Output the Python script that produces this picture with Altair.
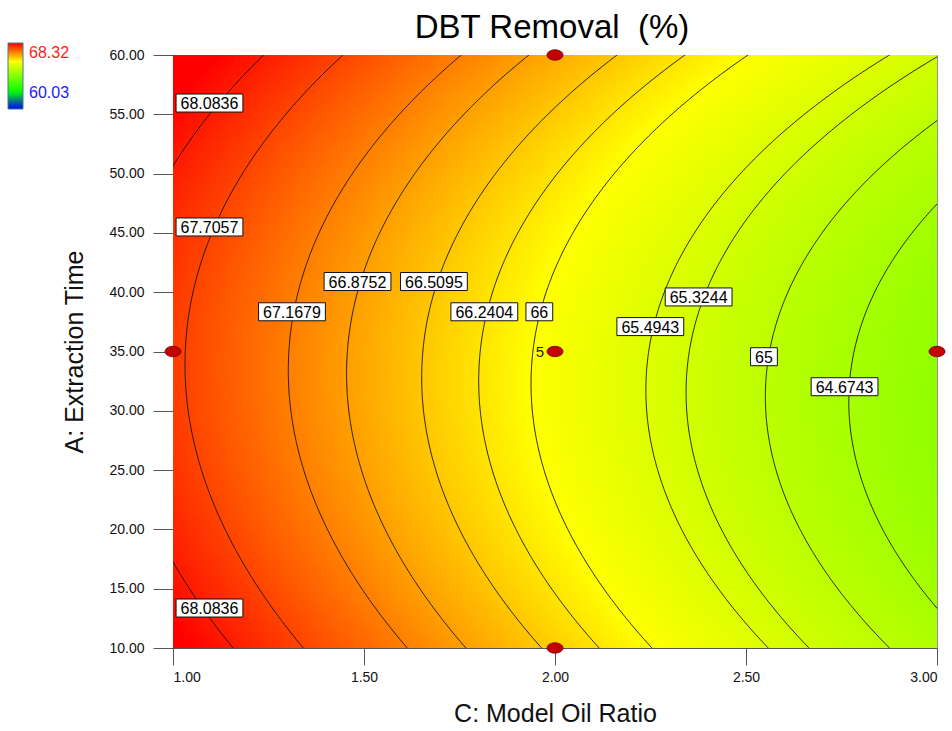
import altair as alt
import numpy as np
import pandas as pd

# Fitted quadratic response surface in coded factors
#   X = ratio - 2            (model oil ratio 1 .. 3)
#   Y = (time - 35) / 25     (extraction time 10 .. 60)
# R = b0 + bC*X + bA*Y + bCC*X^2 + bAA*Y^2 + bAC*X*Y
coef_names = ["b0", "bC", "bA", "bCC", "bAA", "bAC"]
coef_values = [65.901, -1.70, 0.1595, 0.17, 0.7045, 0.10]

ratio_range = [1.0, 3.0]
time_range = [10.0, 60.0]

contour_levels = [68.0836, 67.7057, 67.1679, 66.8752, 66.5095, 66.2404,
                  66.0, 65.4943, 65.3244, 65.0, 64.6743]

label_text = ["68.0836", "67.7057", "68.0836", "67.1679", "66.8752", "66.5095",
              "66.2404", "66", "65.4943", "65.3244", "65", "64.6743"]
label_ratio = [1.0955, 1.0955, 1.0955, 1.3115, 1.483, 1.683,
               1.815, 1.959, 2.2495, 2.376, 2.547, 2.758]
label_time = [55.95, 45.5, 13.37, 38.35, 40.9, 40.9,
              38.35, 38.35, 37.1, 39.6, 34.56, 32.03]

design_ratio = [1.0, 2.0, 2.0, 2.0, 3.0]
design_time = [35.0, 60.0, 35.0, 10.0, 35.0]
design_reps = [1, 1, 5, 1, 1]

legend_max = 68.32
legend_min = 60.03
color_stops = [60.03, 62.2, 66.0, 68.32]
color_range = ["#0000ff", "#00ff00", "#ffff00", "#ff0000"]

W, H = 764, 593
FONT = "Liberation Sans"

c = dict(zip(coef_names, coef_values))


def response(ratio, time):
    X = ratio - 2.0
    Y = (time - 35.0) / 25.0
    return (c["b0"] + c["bC"] * X + c["bA"] * Y + c["bCC"] * X ** 2
            + c["bAA"] * Y ** 2 + c["bAC"] * X * Y)


px_per_x = W / (ratio_range[1] - ratio_range[0])
px_per_y = H / (time_range[1] - time_range[0])

# --- filled surface as a fine grid of cells (slight overlap hides seams) ---
nx, ny = 150, 116
xe = np.linspace(ratio_range[0], ratio_range[1], nx + 1)
ye = np.linspace(time_range[0], time_range[1], ny + 1)
xc = (xe[:-1] + xe[1:]) / 2
yc = (ye[:-1] + ye[1:]) / 2
gx0, gy0 = np.meshgrid(xe[:-1], ye[:-1])
gx1, gy1 = np.meshgrid(np.minimum(xe[1:] + 0.8 / px_per_x, ratio_range[1]),
                       np.minimum(ye[1:] + 0.8 / px_per_y, time_range[1]))
gxc, gyc = np.meshgrid(xc, yc)
grid = pd.DataFrame({
    "x0": gx0.ravel().round(5), "x1": gx1.ravel().round(5),
    "y0": gy0.ravel().round(4), "y1": gy1.ravel().round(4),
    "R": response(gxc, gyc).ravel().round(4),
})

# --- contour lines: solve the quadratic in X for each time value ---
rows = []
Ys = np.linspace(-1.03, 1.03, 320)
for lev in contour_levels:
    k = 0
    for Y in Ys:
        A = c["bCC"]
        B = c["bC"] + c["bAC"] * Y
        C = c["b0"] + c["bA"] * Y + c["bAA"] * Y ** 2 - lev
        D = B * B - 4 * A * C
        if D < 0:
            continue
        X = (-B - np.sqrt(D)) / (2 * A)
        rows.append({"level": lev, "seq": k, "ratio": X + 2.0, "time": 35.0 + 25.0 * Y})
        k += 1
lines = pd.DataFrame(rows)

# --- label boxes sized from their text ---
fs = 16
boxes = []
for t, xr, yt in zip(label_text, label_ratio, label_time):
    tw = fs * sum(0.278 if ch == "." else 0.556 for ch in t)
    hw = (tw + 9) / 2 / px_per_x
    hh = 9.0 / px_per_y
    boxes.append({"text": t, "ratio": xr, "time": yt,
                  "bx0": xr - hw, "bx1": xr + hw, "by0": yt - hh, "by1": yt + hh})
boxes = pd.DataFrame(boxes)

design = pd.DataFrame({"ratio": design_ratio, "time": design_time,
                       "reps": design_reps})
design["rep_label"] = design["reps"].apply(lambda r: str(r) if r > 1 else "")

xscale = alt.Scale(domain=ratio_range, nice=False, zero=False)
yscale = alt.Scale(domain=time_range, nice=False, zero=False)
cscale = alt.Scale(domain=color_stops, range=color_range, clamp=True,
                   interpolate="rgb")

x_axis = alt.Axis(values=[1.0, 1.5, 2.0, 2.5, 3.0], format=".2f",
                  title="C: Model Oil Ratio", tickSize=17, labelPadding=5,
                  titlePadding=17, grid=False)
y_axis = alt.Axis(values=list(range(10, 61, 5)), format=".2f",
                  title="A: Extraction Time", tickSize=20, labelPadding=9,
                  titlePadding=21, grid=False)

heat = alt.Chart(grid).mark_rect(strokeWidth=0).encode(
    x=alt.X("x0:Q", scale=xscale, axis=x_axis),
    x2="x1:Q",
    y=alt.Y("y0:Q", scale=yscale, axis=y_axis),
    y2="y1:Q",
    color=alt.Color("R:Q", scale=cscale, legend=alt.Legend(
        type="gradient", orient="none", legendX=-165, legendY=-12,
        direction="vertical", gradientLength=66, gradientThickness=15,
        labelExpr="''", title=None,
        gradientStrokeColor="#3f7f8c", gradientStrokeWidth=1)),
)

contours = alt.Chart(lines).mark_line(clip=True, color="#111111", strokeWidth=0.9).encode(
    x=alt.X("ratio:Q", scale=xscale),
    y=alt.Y("time:Q", scale=yscale),
    detail="level:N",
    order="seq:Q",
)

label_boxes = alt.Chart(boxes).mark_rect(fill="white", stroke="#111111", strokeWidth=1).encode(
    x=alt.X("bx0:Q", scale=xscale), x2="bx1:Q",
    y=alt.Y("by0:Q", scale=yscale), y2="by1:Q",
)

label_texts = alt.Chart(boxes).mark_text(font=FONT, fontSize=fs, color="black",
                                         baseline="middle", dy=1).encode(
    x=alt.X("ratio:Q", scale=xscale),
    y=alt.Y("time:Q", scale=yscale),
    text="text:N",
)

ellipse = "M-1,0A1,0.65,0,1,0,1,0A1,0.65,0,1,0,-1,0Z"
points = alt.Chart(design).mark_point(shape=ellipse, size=256, filled=True,
                                      fill="#c40000", stroke="#6a0000",
                                      strokeWidth=0.8, opacity=1).encode(
    x=alt.X("ratio:Q", scale=xscale),
    y=alt.Y("time:Q", scale=yscale),
)

reps = alt.Chart(design).mark_text(font=FONT, fontSize=15, color="#222222",
                                   dx=-15, baseline="middle").encode(
    x=alt.X("ratio:Q", scale=xscale),
    y=alt.Y("time:Q", scale=yscale),
    text="rep_label:N",
)

legend_hi = alt.Chart(pd.DataFrame({"t": [f"{legend_max:.2f}"]})).mark_text(
    font=FONT, fontSize=16, color="#ff1a1a", align="left", baseline="middle"
).encode(x=alt.value(-144), y=alt.value(-2), text="t:N")

legend_lo = alt.Chart(pd.DataFrame({"t": [f"{legend_min:.2f}"]})).mark_text(
    font=FONT, fontSize=16, color="#1a1aff", align="left", baseline="middle"
).encode(x=alt.value(-144), y=alt.value(38), text="t:N")

title = alt.Chart(pd.DataFrame({"t": ["DBT Removal\u00a0 (%)"]})).mark_text(
    font=FONT, fontSize=33, color="black", align="center", baseline="alphabetic"
).encode(x=alt.value(W / 2 - 3), y=alt.value(-17), text="t:N")

chart = alt.layer(
    heat, contours, label_boxes, label_texts, points, reps,
    legend_hi, legend_lo, title
).properties(
    width=W, height=H,
    padding={"left": 173, "top": 55, "right": 15, "bottom": 83},
    autosize=alt.AutoSizeParams(type="none"),
).configure_view(
    stroke="#8c93a3", strokeWidth=1
).configure_axis(
    labelFont=FONT, labelFontSize=14, labelColor="#111111",
    titleFont=FONT, titleFontSize=25, titleFontWeight="normal", titleColor="#111111",
    domainColor="#555555", tickColor="#555555", domainWidth=1, tickWidth=1,
)

chart.save("out.html", embed_options={"renderer": "svg", "actions": False})
